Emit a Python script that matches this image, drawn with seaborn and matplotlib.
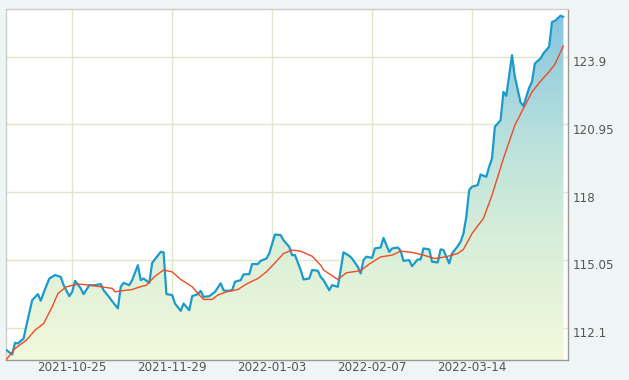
import numpy as np
import pandas as pd
import matplotlib
matplotlib.use("Agg")
import matplotlib.pyplot as plt
import matplotlib.dates as mdates
from matplotlib.colors import LinearSegmentedColormap
from matplotlib.transforms import ScaledTranslation
import seaborn as sns

price_dates = [
    "2021-10-02", "2021-10-04", "2021-10-05", "2021-10-06", "2021-10-08", "2021-10-09",
    "2021-10-11", "2021-10-13", "2021-10-14", "2021-10-15", "2021-10-17", "2021-10-19",
    "2021-10-21", "2021-10-22", "2021-10-24", "2021-10-25", "2021-10-26", "2021-10-28",
    "2021-10-29", "2021-10-31", "2021-11-02", "2021-11-04", "2021-11-05", "2021-11-07",
    "2021-11-08", "2021-11-10", "2021-11-11", "2021-11-12", "2021-11-14", "2021-11-15",
    "2021-11-17", "2021-11-18", "2021-11-19", "2021-11-21", "2021-11-22", "2021-11-25",
    "2021-11-26", "2021-11-27", "2021-11-29", "2021-11-30", "2021-12-02", "2021-12-03",
    "2021-12-05", "2021-12-06", "2021-12-08", "2021-12-09", "2021-12-10", "2021-12-12",
    "2021-12-14", "2021-12-16", "2021-12-17", "2021-12-18", "2021-12-20", "2021-12-21",
    "2021-12-23", "2021-12-24", "2021-12-26", "2021-12-27", "2021-12-29", "2021-12-30",
    "2022-01-01", "2022-01-02", "2022-01-04", "2022-01-06", "2022-01-07", "2022-01-09",
    "2022-01-10", "2022-01-11", "2022-01-13", "2022-01-14", "2022-01-16", "2022-01-17",
    "2022-01-19", "2022-01-20", "2022-01-21", "2022-01-23", "2022-01-24", "2022-01-26",
    "2022-01-27", "2022-01-28", "2022-01-30", "2022-01-31", "2022-02-02", "2022-02-03",
    "2022-02-04", "2022-02-05", "2022-02-07", "2022-02-08", "2022-02-10", "2022-02-11",
    "2022-02-13", "2022-02-14", "2022-02-16", "2022-02-17", "2022-02-18", "2022-02-20",
    "2022-02-21", "2022-02-23", "2022-02-24", "2022-02-25", "2022-02-27", "2022-02-28",
    "2022-03-02", "2022-03-03", "2022-03-04", "2022-03-06", "2022-03-07", "2022-03-09",
    "2022-03-10", "2022-03-11", "2022-03-12", "2022-03-13", "2022-03-14", "2022-03-16",
    "2022-03-17", "2022-03-19", "2022-03-20", "2022-03-21", "2022-03-22", "2022-03-24",
    "2022-03-25", "2022-03-26", "2022-03-28", "2022-03-29", "2022-03-31", "2022-04-01",
    "2022-04-03", "2022-04-04", "2022-04-05", "2022-04-07", "2022-04-08", "2022-04-10",
    "2022-04-11", "2022-04-12", "2022-04-14", "2022-04-15",
]
price_values = [
    111.12, 110.93, 111.44, 111.41, 111.63, 112.21,
    113.30, 113.56, 113.27, 113.62, 114.24, 114.39,
    114.31, 113.95, 113.47, 113.66, 114.14, 113.81,
    113.56, 113.95, 113.95, 114.00, 113.73, 113.42,
    113.25, 112.94, 113.88, 114.05, 113.95, 114.17,
    114.82, 114.17, 114.24, 114.05, 114.92, 115.40,
    115.38, 113.56, 113.52, 113.15, 112.83, 113.15,
    112.86, 113.47, 113.56, 113.70, 113.44, 113.47,
    113.66, 114.03, 113.73, 113.70, 113.73, 114.10,
    114.17, 114.42, 114.43, 114.87, 114.87, 115.01,
    115.11, 115.33, 116.16, 116.13, 115.91, 115.62,
    115.26, 115.26, 114.61, 114.20, 114.24, 114.61,
    114.58, 114.31, 114.17, 113.73, 113.95, 113.88,
    114.61, 115.38, 115.23, 115.11, 114.75, 114.46,
    115.04, 115.19, 115.14, 115.55, 115.59, 116.01,
    115.40, 115.55, 115.59, 115.45, 115.01, 115.04,
    114.78, 115.07, 115.07, 115.55, 115.51, 114.97,
    114.94, 115.51, 115.48, 114.90, 115.33, 115.65,
    115.84, 116.20, 116.93, 118.09, 118.24, 118.31,
    118.77, 118.67, 119.11, 119.47, 120.85, 121.14,
    122.37, 122.20, 123.97, 123.03, 121.91, 121.76,
    122.55, 122.81, 123.61, 123.83, 124.05, 124.34,
    125.42, 125.46, 125.69, 125.64,
]

ma_dates = [
    "2021-10-02", "2021-10-05", "2021-10-09", "2021-10-12", "2021-10-15", "2021-10-18",
    "2021-10-20", "2021-10-23", "2021-10-27", "2021-10-31", "2021-11-04", "2021-11-08",
    "2021-11-09", "2021-11-11", "2021-11-15", "2021-11-17", "2021-11-20", "2021-11-23",
    "2021-11-26", "2021-11-29", "2021-12-02", "2021-12-06", "2021-12-08", "2021-12-10",
    "2021-12-13", "2021-12-15", "2021-12-18", "2021-12-22", "2021-12-25", "2021-12-29",
    "2022-01-01", "2022-01-04", "2022-01-07", "2022-01-10", "2022-01-13", "2022-01-17",
    "2022-01-20", "2022-01-21", "2022-01-26", "2022-01-29", "2022-02-03", "2022-02-06",
    "2022-02-10", "2022-02-14", "2022-02-17", "2022-02-21", "2022-02-25", "2022-03-01",
    "2022-03-05", "2022-03-09", "2022-03-11", "2022-03-14", "2022-03-18", "2022-03-21",
    "2022-03-25", "2022-03-29", "2022-04-01", "2022-04-04", "2022-04-07", "2022-04-10",
    "2022-04-12", "2022-04-15",
]
ma_values = [
    110.72, 111.19, 111.56, 111.99, 112.28, 113.01,
    113.59, 113.88, 114.00, 113.95, 113.88, 113.81,
    113.66, 113.70, 113.76, 113.85, 113.95, 114.34,
    114.61, 114.53, 114.20, 113.88, 113.59, 113.33,
    113.33, 113.52, 113.66, 113.76, 114.00, 114.24,
    114.53, 114.92, 115.33, 115.48, 115.43, 115.21,
    114.82, 114.61, 114.20, 114.49, 114.58, 114.87,
    115.18, 115.26, 115.43, 115.38, 115.26, 115.11,
    115.19, 115.33, 115.51, 116.20, 116.86, 117.87,
    119.47, 120.92, 121.65, 122.37, 122.84, 123.25,
    123.57, 124.38,
]

y_ticks = [112.1, 115.05, 118, 120.95, 123.9]
y_tick_labels = ["112.1", "115.05", "118", "120.95", "123.9"]
x_ticks = ["2021-10-25", "2021-11-29", "2022-01-03", "2022-02-07", "2022-03-14"]
y_range = (110.69, 125.96)

price = pd.DataFrame({"date": pd.to_datetime(price_dates), "value": price_values})
ma = pd.DataFrame({"date": pd.to_datetime(ma_dates), "value": ma_values})

sns.set_style("white")
plt.rcParams["font.family"] = ["DejaVu Sans"]

fig = plt.figure(figsize=(6.29, 3.80), dpi=100, facecolor="#eff5f5")
ax = fig.add_axes([6.5 / 629, 20 / 380, (567.7 - 6.5) / 629, (360 - 9.5) / 380])
ax.set_facecolor("white")

x0 = price["date"].iloc[0]
x1 = price["date"].iloc[-1] + pd.Timedelta(days=1.5)
ax.set_xlim(x0, x1)
ax.set_ylim(*y_range)

# gradient area under the price line
poly = ax.fill_between(price["date"], price["value"], y_range[0], color="none", lw=0)
cmap = LinearSegmentedColormap.from_list(
    "area", [(0.0, "#f3f9dc"), (0.35, "#d7eed8"), (0.6, "#bde2dc"), (1.0, "#84c5df")]
)
grad = np.linspace(0, 1, 256).reshape(-1, 1)
img = ax.imshow(
    grad, cmap=cmap, origin="lower", aspect="auto",
    extent=[mdates.date2num(x0), mdates.date2num(x1), y_range[0], y_range[1]],
    zorder=1,
)
path = poly.get_paths()[0]
img.set_clip_path(path, transform=ax.transData)

ax.set_yticks(y_ticks)
ax.set_xticks(pd.to_datetime(x_ticks))
ax.grid(True, color="#dfe7c9", linewidth=1.0, zorder=0)
ax.set_axisbelow(True)

sns.lineplot(data=price, x="date", y="value", ax=ax, color="#1b9bcb", linewidth=1.6, zorder=3)
sns.lineplot(data=ma, x="date", y="value", ax=ax, color="#f04a24", linewidth=1.0, zorder=4)

ax.set_xlim(x0, x1)
ax.set_ylim(*y_range)
ax.set_xlabel("")
ax.set_ylabel("")

ax.xaxis.set_major_formatter(mdates.DateFormatter("%Y-%m-%d"))
ax.yaxis.tick_right()
ax.set_yticklabels(y_tick_labels)
ax.tick_params(axis="both", length=0, labelsize=8.6, colors="#555555")
ax.tick_params(axis="y", pad=3.5)
ax.tick_params(axis="x", pad=0.8)
for lab in ax.get_yticklabels():
    lab.set_transform(lab.get_transform() + ScaledTranslation(0, -4.3 / 100, fig.dpi_scale_trans))

for side in ["left", "top"]:
    ax.spines[side].set_color("#cccccc")
    ax.spines[side].set_linewidth(1.0)
for side in ["right", "bottom"]:
    ax.spines[side].set_color("#999999")
    ax.spines[side].set_linewidth(1.0)
for s in ax.spines.values():
    s.set_visible(True)

fig.savefig("out.png", dpi=100, facecolor=fig.get_facecolor())
